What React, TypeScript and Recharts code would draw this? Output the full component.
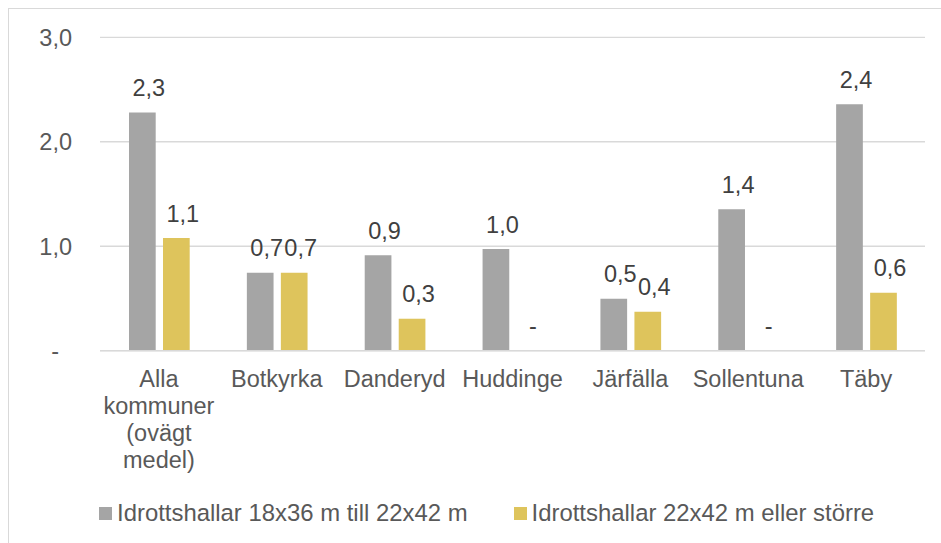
import React from "react";
import { BarChart, Bar, XAxis, YAxis, CartesianGrid, LabelList, Legend } from "recharts";

const categories = [
  "Alla kommuner (ovägt medel)",
  "Botkyrka",
  "Danderyd",
  "Huddinge",
  "Järfälla",
  "Sollentuna",
  "Täby",
];
const smallHalls = [2.28, 0.745, 0.913, 0.973, 0.498, 1.355, 2.36];
const largeHalls = [1.078, 0.745, 0.306, 0, 0.373, 0, 0.555];
const seriesNames = ["Idrottshallar 18x36 m till 22x42 m", "Idrottshallar 22x42 m eller större"];
const yTicks = [0, 1, 2, 3];

const FONT = "'Liberation Sans', Arial, sans-serif";
const FS = 23.5;
const LEGEND_FS = 23.9;
const GRAY = "#a5a5a5";
const YELLOW = "#dec45c";
const AXIS_TEXT = "#595959";
const LABEL_TEXT = "#404040";

const data = categories.map((c, i) => ({ name: c, small: smallHalls[i], large: largeHalls[i] }));

const fmt = (v: number) => (v === 0 ? "-" : v.toFixed(1).replace(".", ","));

let ctx: CanvasRenderingContext2D | null = null;
function measure(t: string): number {
  if (!ctx) {
    const c = document.createElement("canvas");
    ctx = c.getContext("2d");
  }
  if (!ctx) return t.length * 12;
  ctx.font = `${FS}px ${FONT}`;
  return ctx.measureText(t).width;
}
function wrap(text: string, maxW: number): string[] {
  const words = text.split(" ");
  const lines: string[] = [];
  let cur = "";
  for (const w of words) {
    const cand = cur ? cur + " " + w : w;
    if (cur && measure(cand) > maxW) {
      lines.push(cur);
      cur = w;
    } else cur = cand;
  }
  if (cur) lines.push(cur);
  return lines;
}

const XTick = (props: any) => {
  const { x, y, payload } = props;
  const lines = wrap(String(payload.value), 115);
  return (
    <text x={x} y={y} textAnchor="middle" fill={AXIS_TEXT} fontSize={FS} fontFamily={FONT}>
      {lines.map((l, i) => (
        <tspan key={i} x={x} dy={i === 0 ? 36.6 : 26.8}>
          {l}
        </tspan>
      ))}
    </text>
  );
};

const YTick = (props: any) => {
  const { x, y, payload } = props;
  const v = payload.value as number;
  return (
    <text x={v === 0 ? x - 13 : x} y={y} dy={8.3} textAnchor="end" fill={AXIS_TEXT} fontSize={FS} fontFamily={FONT}>
      {fmt(v)}
    </text>
  );
};

const ValueLabel = (props: any) => {
  const { x, y, width, value } = props;
  const v = Number(value);
  const cx = Number(x) + Number(width) / 2 + (v === 0 ? 3 : 6.5);
  return (
    <text x={cx} y={Number(y) - 16.5} textAnchor="middle" fill={LABEL_TEXT} fontSize={FS} fontFamily={FONT}>
      {fmt(v)}
    </text>
  );
};

const LegendContent = (props: any) => {
  const payload = props.payload || [];
  return (
    <div style={{ position: "relative", height: LEGEND_FS }}>
      <div
        style={{
          position: "absolute",
          left: 99,
          top: 0,
          display: "flex",
          alignItems: "center",
          whiteSpace: "nowrap",
          fontSize: LEGEND_FS,
          lineHeight: `${LEGEND_FS}px`,
          color: AXIS_TEXT,
          fontFamily: FONT,
        }}
      >
        {payload.map((p: any, i: number) => (
          <div key={i} style={{ display: "flex", alignItems: "center", marginRight: i === 0 ? 46 : 0 }}>
            <span style={{ display: "inline-block", width: 13, height: 13, background: p.color, marginRight: 5 }} />
            <span>{p.value}</span>
          </div>
        ))}
      </div>
    </div>
  );
};

export default function App() {
  return (
    <div
      style={{
        position: "fixed",
        left: 0,
        top: 0,
        width: 941,
        height: 543,
        overflow: "hidden",
        background: "#fff",
      }}
    >
      <div
        style={{
          position: "absolute",
          left: 8,
          top: 8,
          width: 1000,
          height: 600,
          border: "1px solid #d9d9d9",
          boxSizing: "border-box",
        }}
      />
      <div style={{ position: "absolute", left: 0, top: 0 }}>
        <BarChart
          width={941}
          height={543}
          data={data}
          margin={{ top: 37.3, right: 16, bottom: 0, left: 0 }}
          barSize={26.7}
          barGap={7.3}
        >
          <CartesianGrid vertical={false} stroke="#d9d9d9" strokeWidth={1.3} />
          <XAxis
            dataKey="name"
            height={192.3}
            interval={0}
            tickLine={false}
            tickSize={0}
            tickMargin={0}
            axisLine={{ stroke: "#d9d9d9", strokeWidth: 1.6 }}
            tick={<XTick />}
          />
          <YAxis
            width={100}
            domain={[0, 3]}
            ticks={yTicks}
            axisLine={false}
            tickLine={false}
            tickSize={0}
            tickMargin={28}
            tick={<YTick />}
          />
          <Legend
            verticalAlign="middle"
            align="center"
            layout="horizontal"
            wrapperStyle={{ left: 0, top: 501.2, width: 941 }}
            content={<LegendContent />}
          />
          <Bar dataKey="small" name={seriesNames[0]} fill={GRAY} isAnimationActive={false} minPointSize={0.01}>
            <LabelList dataKey="small" content={<ValueLabel />} />
          </Bar>
          <Bar dataKey="large" name={seriesNames[1]} fill={YELLOW} isAnimationActive={false} minPointSize={0.01}>
            <LabelList dataKey="large" content={<ValueLabel />} />
          </Bar>
        </BarChart>
      </div>
    </div>
  );
}
